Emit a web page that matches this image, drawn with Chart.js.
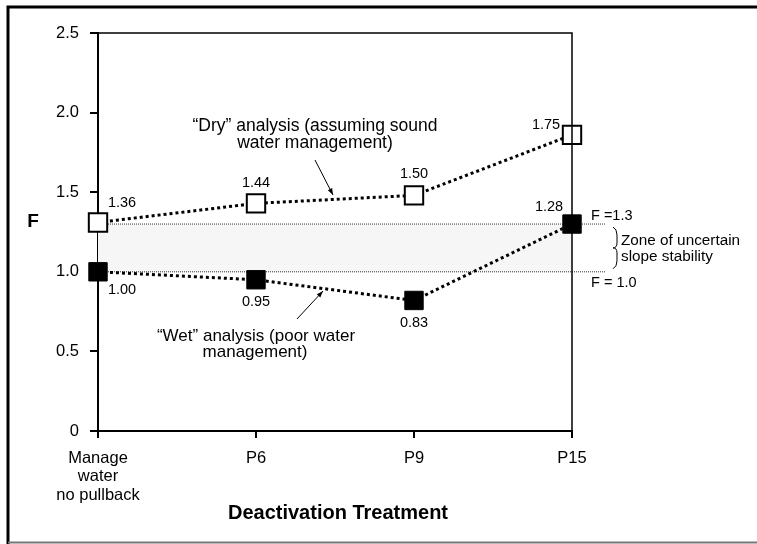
<!DOCTYPE html>
<html>
<head>
<meta charset="utf-8">
<script src="https://cdn.jsdelivr.net/npm/chart.js@4"></script>
<style>
    html, body { margin: 0; padding: 0; background: #fff; }
    #wrap { width: 757px; height: 544px; }
</style>
</head>
<body>
<div id="wrap"><canvas id="fChart"></canvas></div>
<script>
// Chart data
const treatments = [['Manage', 'water', 'no pullback'], 'P6', 'P9', 'P15'];
const dryValues = [1.31, 1.43, 1.48, 1.86];
const dryLabels = ['1.36', '1.44', '1.50', '1.75'];
const wetValues = [1.00, 0.95, 0.82, 1.30];
const wetLabels = ['1.00', '0.95', '0.83', '1.28'];
const zoneLimits = [1.0, 1.3];

const FONT = '"Liberation Sans", Arial, sans-serif';

// Extras drawn on the canvas: zone, frame, labels, arrows
const extrasPlugin = {
    id: 'extras',
    beforeDatasetsDraw(chart) {
        const ctx = chart.ctx;
        const area = chart.chartArea;
        const y = chart.scales.y;
        const yLo = y.getPixelForValue(zoneLimits[0]);
        const yHi = y.getPixelForValue(zoneLimits[1]);
        ctx.save();
        ctx.fillStyle = '#f6f6f6';
        ctx.fillRect(area.left, yHi, area.right - area.left, yLo - yHi);
        ctx.strokeStyle = '#333';
        ctx.lineWidth = 1;
        ctx.setLineDash([1, 1]);
        [yLo, yHi].forEach(py => {
            ctx.beginPath();
            ctx.moveTo(area.left, py);
            ctx.lineTo(area.right + 33, py);
            ctx.stroke();
        });
        ctx.restore();
    },
    afterDraw(chart) {
        const ctx = chart.ctx;
        const area = chart.chartArea;
        const y = chart.scales.y;
        ctx.save();

        // plot box top/right
        ctx.strokeStyle = '#000';
        ctx.lineWidth = 1.5;
        ctx.beginPath();
        ctx.moveTo(area.left, area.top);
        ctx.lineTo(area.right, area.top);
        ctx.lineTo(area.right, area.bottom);
        ctx.stroke();

        // outer frame
        ctx.lineWidth = 3;
        ctx.beginPath();
        ctx.moveTo(8, 544);
        ctx.lineTo(8, 7);
        ctx.lineTo(757, 7);
        ctx.stroke();
        ctx.strokeStyle = '#777';
        ctx.lineWidth = 2;
        ctx.beginPath();
        ctx.moveTo(8, 542.5);
        ctx.lineTo(757, 542.5);
        ctx.stroke();

        // value labels
        ctx.fillStyle = '#000';
        ctx.font = '14.5px ' + FONT;
        ctx.textAlign = 'center';
        ctx.textBaseline = 'middle';
        const dryOff = [[24, -19], [0, -20], [0, -21], [-26, -10]];
        const wetOff = [[24, 18], [0, 22], [0, 23], [-23, -17]];
        chart.getDatasetMeta(0).data.forEach((p, i) => {
            ctx.fillText(dryLabels[i], p.x + dryOff[i][0], p.y + dryOff[i][1]);
        });
        chart.getDatasetMeta(1).data.forEach((p, i) => {
            ctx.fillText(wetLabels[i], p.x + wetOff[i][0], p.y + wetOff[i][1]);
        });

        // annotations
        ctx.font = '17.5px ' + FONT;
        ctx.fillText('\u201CDry\u201D analysis (assuming sound', 315, 126);
        ctx.fillText('water management)', 315, 143);
        ctx.font = '17px ' + FONT;
        ctx.fillText('\u201CWet\u201D analysis (poor water', 256, 336);
        ctx.fillText('management)', 255, 352);

        ctx.textAlign = 'left';
        ctx.font = '14.5px ' + FONT;
        ctx.fillText('F =1.3', 591, y.getPixelForValue(1.3) - 8);
        ctx.fillText('F = 1.0', 591, y.getPixelForValue(1.0) + 11);
        ctx.font = '15.3px ' + FONT;
        ctx.fillText('Zone of uncertain', 621, 241);
        ctx.fillText('slope stability', 621, 257);

        // brace
        const bTop = y.getPixelForValue(1.3) + 3, bBot = y.getPixelForValue(1.0) - 3;
        const bMid = (bTop + bBot) / 2;
        ctx.strokeStyle = '#000';
        ctx.lineWidth = 1;
        ctx.beginPath();
        ctx.moveTo(613, bTop);
        ctx.quadraticCurveTo(617, bTop + 2, 617, bTop + 8);
        ctx.lineTo(617, bMid - 5);
        ctx.quadraticCurveTo(617, bMid, 613, bMid);
        ctx.quadraticCurveTo(617, bMid, 617, bMid + 5);
        ctx.lineTo(617, bBot - 8);
        ctx.quadraticCurveTo(617, bBot - 2, 613, bBot);
        ctx.stroke();

        // arrows
        const arrow = (x1, y1, x2, y2) => {
            const a = Math.atan2(y2 - y1, x2 - x1);
            ctx.beginPath();
            ctx.moveTo(x1, y1);
            ctx.lineTo(x2, y2);
            ctx.stroke();
            ctx.beginPath();
            ctx.moveTo(x2, y2);
            ctx.lineTo(x2 - 7 * Math.cos(a - 0.35), y2 - 7 * Math.sin(a - 0.35));
            ctx.lineTo(x2 - 7 * Math.cos(a + 0.35), y2 - 7 * Math.sin(a + 0.35));
            ctx.closePath();
            ctx.fill();
        };
        arrow(315, 160, 333, 195);
        arrow(297, 319, 323, 291);

        // axis titles
        ctx.textAlign = 'center';
        ctx.font = 'bold 19px ' + FONT;
        ctx.fillText('F', 33, 222);
        ctx.font = 'bold 20px ' + FONT;
        ctx.fillText('Deactivation Treatment', 338, 513);

        ctx.restore();
    }
};

new Chart(document.getElementById('fChart').getContext('2d'), {
    type: 'line',
    data: {
        labels: treatments,
        datasets: [{
            label: 'Dry',
            data: dryValues,
            borderColor: '#000',
            borderWidth: 3,
            borderDash: [3, 3],
            pointStyle: 'rect',
            pointRadius: 13,
            pointBorderWidth: 2,
            pointBackgroundColor: '#fff',
            pointBorderColor: '#000',
            tension: 0,
            clip: false
        }, {
            label: 'Wet',
            data: wetValues,
            borderColor: '#000',
            borderWidth: 3,
            borderDash: [3, 3],
            pointStyle: 'rect',
            pointRadius: 13,
            pointBorderWidth: 1,
            pointBackgroundColor: '#000',
            pointBorderColor: '#000',
            tension: 0,
            clip: false
        }]
    },
    options: {
        responsive: true,
        maintainAspectRatio: false,
        animation: false,
        layout: { padding: { left: 0, right: 185, top: 33, bottom: 0 } },
        plugins: {
            legend: { display: false },
            tooltip: { enabled: false }
        },
        scales: {
            x: {
                type: 'category',
                offset: false,
                afterFit: s => { s.height = 113; },
                grid: { drawOnChartArea: false, drawTicks: true, tickLength: 7, color: '#000', lineWidth: 2 },
                border: { display: true, color: '#000', width: 2 },
                ticks: {
                    color: '#000',
                    font: { family: FONT, size: 16.5, lineHeight: 1.12 },
                    padding: 11,
                    maxRotation: 0,
                    autoSkip: false
                }
            },
            y: {
                min: 0,
                max: 2.5,
                afterFit: s => { s.width = 98; },
                grid: { drawOnChartArea: false, drawTicks: true, tickLength: 8, color: '#000', lineWidth: 2 },
                border: { display: true, color: '#000', width: 2 },
                ticks: {
                    stepSize: 0.5,
                    color: '#000',
                    font: { family: FONT, size: 16.5 },
                    padding: 11,
                    callback: v => v === 0 ? '0' : v.toFixed(1)
                }
            }
        }
    },
    plugins: [extrasPlugin]
});
</script>
</body>
</html>
